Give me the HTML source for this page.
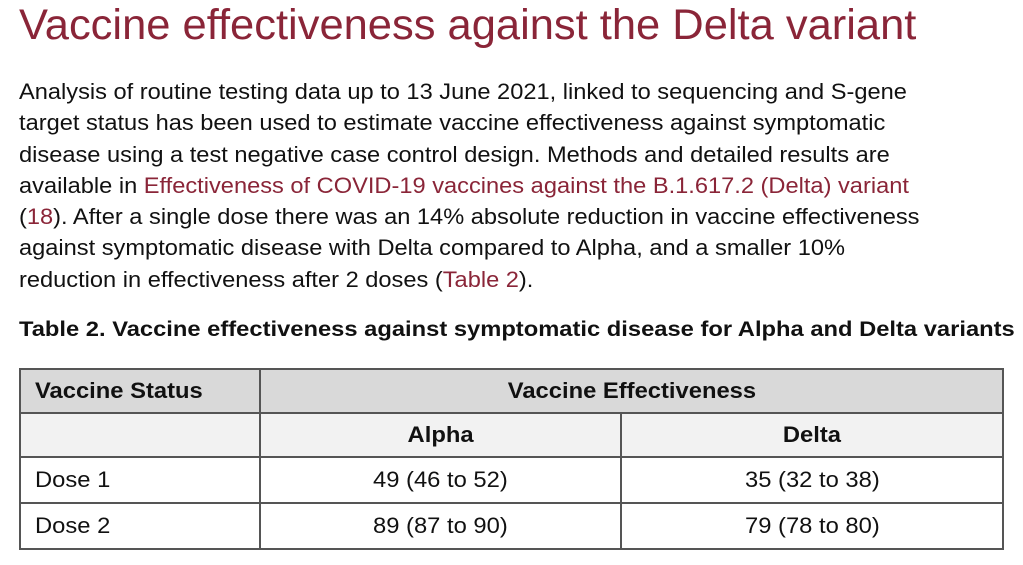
<!DOCTYPE html>
<html><head><style>
body{margin:0;width:1023px;height:565px;background:#fff;font-family:"Liberation Sans",sans-serif;position:relative;overflow:hidden;color:#111}
.t{position:absolute;left:19px;top:1px;font-size:43px;color:#8a2538;white-space:nowrap;transform:scaleX(1.011);transform-origin:left}
.p{position:absolute;left:19px;white-space:nowrap;font-size:22.5px;transform:scaleX(1.05);transform-origin:left}
.l{color:#8a2538}
.cap{position:absolute;left:19px;top:318px;font-size:21px;font-weight:bold;white-space:nowrap;transform:scaleX(1.13);transform-origin:left}
table{position:absolute;left:19px;top:368px;border-collapse:collapse;width:985px;font-size:22px}
td{border:2px solid #555;padding:0 14px;height:42px}
td span{display:inline-block;transform:scaleX(1.08);transform-origin:left}
td.c span{transform-origin:center}
.h td{background:#d9d9d9;font-weight:bold}
.h2 td{background:#f2f2f2;font-weight:bold}
.c{text-align:center}
</style></head><body>
<div class="t">Vaccine effectiveness against the Delta variant</div>
<div class="p" style="top:79px">Analysis of routine testing data up to 13 June 2021, linked to sequencing and S-gene</div>
<div class="p" style="top:110px">target status has been used to estimate vaccine effectiveness against symptomatic</div>
<div class="p" style="top:142px">disease using a test negative case control design. Methods and detailed results are</div>
<div class="p" style="top:173px">available in <span class="l">Effectiveness of COVID-19 vaccines against the B.1.617.2 (Delta) variant</span></div>
<div class="p" style="top:204px">(<span class="l">18</span>). After a single dose there was an 14% absolute reduction in vaccine effectiveness</div>
<div class="p" style="top:235px">against symptomatic disease with Delta compared to Alpha, and a smaller 10%</div>
<div class="p" style="top:267px">reduction in effectiveness after 2 doses (<span class="l">Table 2</span>).</div>
<div class="cap">Table 2. Vaccine effectiveness against symptomatic disease for Alpha and Delta variants</div>
<table>
<tr class="h"><td style="width:210px"><span>Vaccine Status</span></td><td class="c" colspan="2"><span>Vaccine Effectiveness</span></td></tr>
<tr class="h2"><td></td><td class="c" style="width:331px"><span>Alpha</span></td><td class="c"><span>Delta</span></td></tr>
<tr><td style="height:44px"><span>Dose 1</span></td><td class="c"><span>49 (46 to 52)</span></td><td class="c"><span>35 (32 to 38)</span></td></tr>
<tr><td style="height:44px"><span>Dose 2</span></td><td class="c"><span>89 (87 to 90)</span></td><td class="c"><span>79 (78 to 80)</span></td></tr>
</table>
</body></html>
